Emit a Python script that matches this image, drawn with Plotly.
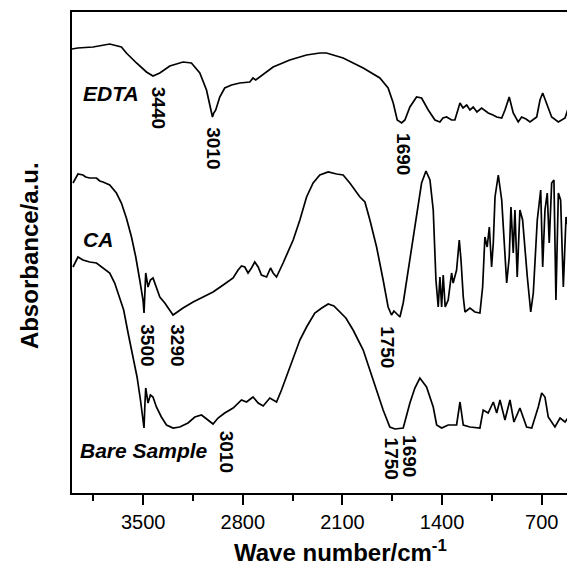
import plotly.graph_objects as go

# ---- data (wavenumber in cm-1, absorbance in arbitrary offset units) ----
edta_wn = [4000, 3960, 3852, 3800, 3735, 3653, 3618, 3547, 3477, 3431, 3383, 3313, 3220, 3161,
           3102, 3055, 3027, 3013, 3004, 2990, 2962, 2927, 2879, 2821, 2751, 2728, 2709, 2680,
           2587, 2470, 2352, 2259, 2212, 2095, 1954, 1837, 1779, 1743, 1715, 1684, 1661, 1626,
           1579, 1544, 1497, 1450, 1415, 1394, 1368, 1333, 1310, 1274, 1253, 1227, 1204, 1181,
           1155, 1122, 1076, 1042, 1016, 981, 958, 928, 900, 865, 841, 810, 782, 735, 712, 693,
           665, 630, 583, 536, 506, 478, 459]
edta_ab = [444, 445, 446, 447, 449, 446, 440, 430, 421, 417, 420, 427, 431, 430,
           420, 403, 386, 376, 380, 383, 396, 405, 408, 410, 411, 415, 413, 416,
           426, 433, 438, 440, 440, 435, 425, 415, 405, 390, 373, 370, 373, 386,
           396, 395, 383, 373, 371, 375, 376, 373, 373, 390, 385, 388, 383, 386,
           381, 385, 380, 378, 376, 375, 383, 396, 380, 371, 376, 374, 371, 376, 393, 400,
           390, 376, 371, 375, 388, 380, 378]

ca_wn = [3993, 3958, 3923, 3904, 3876, 3828, 3805, 3782, 3735, 3688, 3653, 3618, 3582, 3552,
         3524, 3501, 3494, 3488, 3482, 3466, 3449, 3431, 3407, 3383, 3348, 3290, 3220, 3149,
         3079, 3009, 2938, 2868, 2833, 2809, 2786, 2763, 2739, 2716, 2692, 2669, 2633, 2605,
         2587, 2563, 2517, 2446, 2399, 2352, 2306, 2259, 2200, 2174, 2141, 2095, 2048, 1977,
         1942, 1907, 1860, 1814, 1779, 1755, 1738, 1724, 1696, 1673, 1626, 1579, 1544, 1513,
         1485, 1462, 1443, 1427, 1415, 1403, 1392, 1378, 1357, 1333, 1322, 1298, 1279, 1267,
         1251, 1239, 1204, 1169, 1134, 1115, 1099, 1083, 1068, 1052, 1040, 1028, 1005, 981,
         965, 946, 928, 916, 900, 888, 872, 853, 834, 817, 801, 777, 759, 731, 707, 693, 677,
         661, 647, 630, 614, 600, 583, 567, 548, 529, 513, 496, 478, 459]
ca_ab = [310, 319, 318, 316, 315, 315, 312, 311, 308, 300, 290, 275, 256, 236,
         213, 193, 180, 203, 220, 206, 213, 215, 206, 196, 190, 178, 185, 191,
         196, 201, 208, 215, 223, 227, 226, 220, 225, 231, 226, 218, 216, 225,
         220, 216, 230, 253, 273, 296, 310, 318, 321, 320, 319, 318, 310, 296,
         291, 273, 246, 213, 186, 178, 182, 180, 176, 190, 233, 280, 310, 322,
         313, 283, 213, 186, 216, 186, 218, 186, 193, 220, 210, 223, 253, 233,
         196, 181, 185, 181, 180, 206, 256, 246, 266, 226, 250, 296, 318, 293,
         253, 210, 236, 286, 240, 283, 216, 283, 273, 240, 216, 181, 200, 273, 303, 226, 283,
         300, 250, 310, 313, 193, 300, 293, 206, 276, 266, 206, 290, 293]

bare_wn = [3993, 3958, 3923, 3876, 3828, 3782, 3735, 3700, 3665, 3637, 3606, 3571, 3543, 3519,
           3501, 3494, 3488, 3482, 3466, 3449, 3431, 3407, 3372, 3336, 3290, 3243, 3185, 3137,
           3090, 3044, 3009, 2974, 2927, 2868, 2809, 2774, 2728, 2692, 2657, 2610, 2563, 2528,
           2470, 2399, 2352, 2294, 2245, 2200, 2160, 2118, 2076, 2025, 1954, 1884, 1814, 1767,
           1731, 1673, 1626, 1591, 1556, 1509, 1462, 1438, 1403, 1357, 1298, 1274, 1251, 1204,
           1134, 1111, 1076, 1040, 1016, 993, 958, 923, 895, 853, 806, 770, 724, 700, 677, 654,
           630, 607, 571, 536, 501, 459]
bare_ab = [226, 236, 233, 231, 230, 225, 220, 210, 196, 183, 160, 136, 116, 93,
           73, 65, 88, 105, 90, 98, 96, 86, 76, 68, 65, 66, 70, 76,
           78, 73, 69, 75, 80, 85, 93, 91, 96, 90, 87, 95, 91, 103,
           126, 153, 166, 180, 185, 189, 187, 181, 175, 163, 143, 113, 83, 66,
           64, 65, 90, 105, 115, 106, 86, 68, 65, 68, 68, 91, 68, 66,
           65, 83, 80, 91, 80, 93, 73, 93, 71, 85, 66, 65, 86, 100, 96, 76,
           71, 66, 75, 71, 78, 78]

# peak labels: (text, wavenumber, absorbance position)
peak_labels = [("3440", 3387, 385), ("3010", 3004, 345), ("1690", 1668, 339),
               ("3500", 3468, 148), ("3290", 3257, 148), ("1750", 1781, 146),
               ("3010", 2909, 41), ("1750", 1749, 34), ("1690", 1626, 37)]
# sample names: (text, wavenumber, absorbance position)
sample_names = [("EDTA", 3934, 400), ("CA", 3934, 254), ("Bare Sample", 3958, 43)]

x_ticks = [3500, 2800, 2100, 1400, 700]
x_minor = [3850, 3150, 2450, 1750, 1050]

FONT = "Arial, Liberation Sans, sans-serif"

fig = go.Figure()
for wn, ab in [(edta_wn, edta_ab), (ca_wn, ca_ab), (bare_wn, bare_ab)]:
    fig.add_trace(go.Scatter(x=wn, y=ab, mode="lines",
                             line=dict(color="black", width=1.7), showlegend=False))

for txt, xv, yv in peak_labels:
    fig.add_annotation(x=xv, y=yv, text="<b>%s</b>" % txt, textangle=90, showarrow=False,
                       font=dict(family=FONT, size=19, color="black"),
                       xanchor="center", yanchor="middle")

for txt, xv, yv in sample_names:
    fig.add_annotation(x=xv, y=yv, text="<b><i>%s</i></b>" % txt, showarrow=False,
                       font=dict(family=FONT, size=21, color="black"),
                       xanchor="left", yanchor="middle")

fig.add_annotation(xref="paper", yref="paper", x=0.533, y=-0.121,
                   text="<b>Wave number/cm<sup>-1</sup></b>", showarrow=False,
                   font=dict(family=FONT, size=24, color="black"),
                   xanchor="center", yanchor="middle")
fig.add_annotation(xref="paper", yref="paper", x=-0.083, y=0.493,
                   text="<b>Absorbance/a.u.</b>", textangle=-90, showarrow=False,
                   font=dict(family=FONT, size=24, color="black"),
                   xanchor="center", yanchor="middle")

# page body adds an 8 px offset, so the figure is 8 px smaller and margins shifted
fig.update_layout(
    width=567, height=560,
    margin=dict(l=64, r=0, t=4, b=75),
    paper_bgcolor="white", plot_bgcolor="white",
    font=dict(family=FONT, color="black"),
    xaxis=dict(range=[4000, 466], tickvals=x_ticks, ticks="outside", ticklen=10, tickwidth=2,
               tickcolor="black", showline=True, linecolor="black", linewidth=2, mirror=True,
               showgrid=False, zeroline=False, tickfont=dict(size=20, family=FONT),
               minor=dict(tickvals=x_minor, ticks="outside", ticklen=6, tickwidth=2,
                          tickcolor="black")),
    yaxis=dict(range=[0, 481], showticklabels=False, ticks="", showline=True,
               linecolor="black", linewidth=2, showgrid=False, zeroline=False),
)

fig.write_html("out.html")
